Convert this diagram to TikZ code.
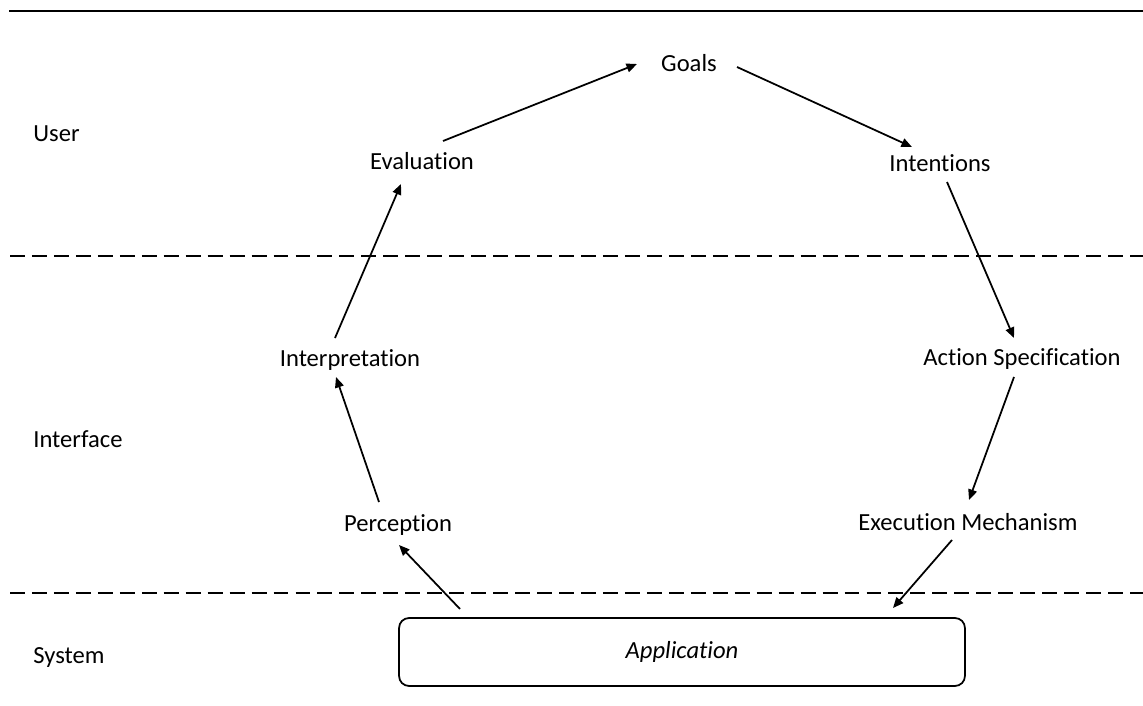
\documentclass[tikz,border=0pt]{standalone}
\usepackage{fontspec}
\setmainfont{Carlito}[RawFeature={-liga}]
\usepackage{tikz}
\usetikzlibrary{arrows.meta}
\tikzset{
  stage/.style={font=\fontsize{14}{17}\selectfont, inner sep=0pt, text height=11pt, text depth=2pt},
  layer/.style={stage, anchor=west},
  flow/.style={draw=black, line width=1pt, -{Triangle[length=6pt,width=5pt]}},
  divider/.style={draw=black, line width=1.1pt, dash pattern=on 8.5pt off 4pt},
  appbox/.style={draw=black, line width=1pt, rounded corners=0.2cm, minimum width=11.32cm, minimum height=1.36cm, font=\fontsize{14}{17}\selectfont\itshape},
}

\begin{document}
\begin{tikzpicture}[x=0.02cm, y=-0.02cm]
\useasboundingbox (0,0) rectangle (1143,706);
\draw[line width=1.6pt] (9,11) -- (1143,11);
\draw[divider] (10,256) -- (1143,256);
\draw[divider] (10,593) -- (1143,593);

\node[layer] (user) at (33,134) {User};
\node[layer] (interface) at (33,440) {Interface};
\node[layer] (system) at (33,656) {System};

\node[stage] (goals) at (689,64) {Goals};
\node[stage] (intentions) at (940,164) {Intentions};
\node[stage] (evaluation) at (422,162) {Evaluation};
\node[stage] (interpretation) at (350,359) {Interpretation};
\node[stage] (actspec) at (1022,358) {Action Specification};
\node[stage] (perception) at (398,524) {Perception};
\node[stage] (execution) at (968,523) {Execution Mechanism};
\node[appbox] (app) at (682,652) {Application};

\draw[flow] ([shift={(21,-21)}]evaluation.center) -- ([shift={(-52,0)}]goals.center);
\draw[flow] ([shift={(48,3)}]goals.center) -- ([shift={(-28,-17)}]intentions.center);
\draw[flow] ([shift={(7,18)}]intentions.center) -- ([shift={(-8,-20)}]actspec.center);
\draw[flow] ([shift={(-8,19)}]actspec.center) -- ([shift={(1,-23)}]execution.center);
\draw[flow] ([shift={(-16,17)}]execution.center) -- ([shift={(211,-44)}]app.center);
\draw[flow] ([shift={(-222,-43)}]app.center) -- ([shift={(1,21)}]perception.center);
\draw[flow] ([shift={(-19,-22)}]perception.center) -- ([shift={(-14,18)}]interpretation.center);
\draw[flow] ([shift={(-15,-21)}]interpretation.center) -- ([shift={(-21,22)}]evaluation.center);
\end{tikzpicture}
\end{document}
